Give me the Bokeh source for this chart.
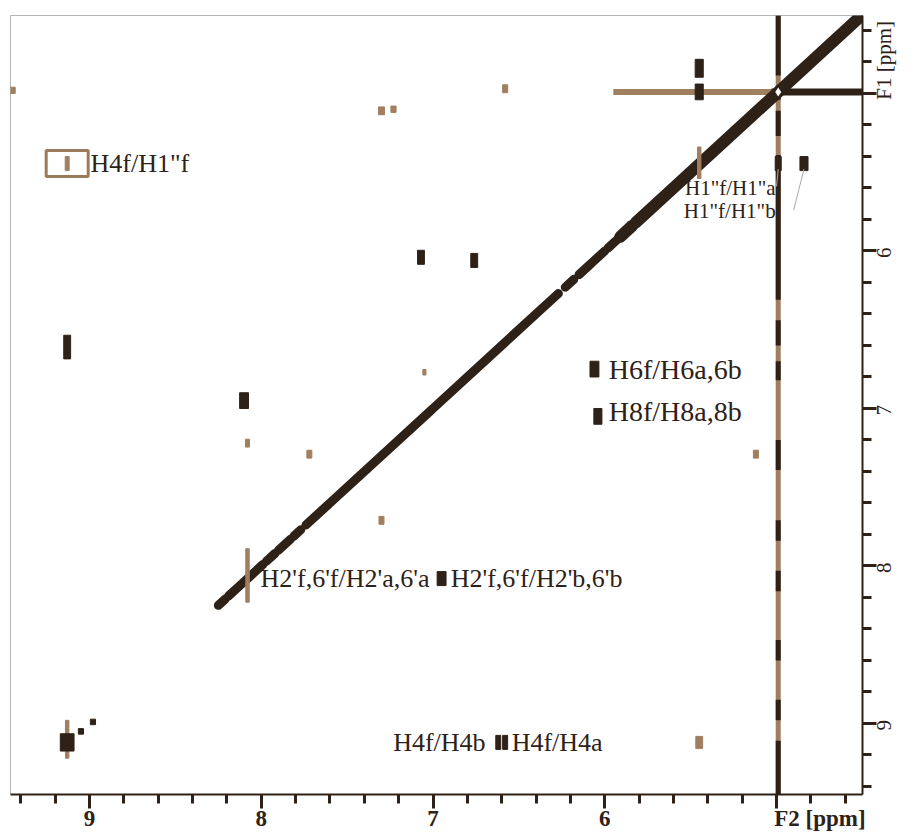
import math
from bokeh.plotting import figure
from bokeh.models import Range1d, FixedTicker, LinearAxis, Label, ColumnDataSource
from bokeh.core.properties import value
from bokeh.embed import file_html
from bokeh.resources import INLINE

DARK = "#2e2117"
TAN = "#a07e60"
SERIF = "Liberation Serif"

# ---------------- data (ppm) ----------------
# diagonal pieces: start / end chemical shift along F1 = F2
diag_start = [8.25, 8.19, 8.13, 7.97, 7.90, 7.81, 7.74, 7.60, 7.00, 6.33, 6.23, 6.15, 6.07, 5.98, 5.91, 5.82]
diag_end   = [8.21, 8.14, 7.99, 7.92, 7.83, 7.77, 7.61, 7.01, 6.34, 6.27, 6.18, 6.08, 6.00, 5.93, 5.84, 4.46]

# exchange ridge (vertical) at F2 = 4.99, dark parts
ridge_x = 4.99
ridge_dark_start = [4.505, 4.95, 5.11, 5.39, 6.44, 6.70, 7.20, 7.71, 8.03, 8.47, 8.85, 9.11]
ridge_dark_end   = [4.886, 5.04, 5.27, 6.31, 6.60, 6.82, 7.39, 7.84, 8.16, 8.60, 8.98, 9.45]
# horizontal ridge at F1 = 4.99
hridge_y = 4.99
hridge_tan = (5.95, 5.03)
hridge_dark = (5.03, 4.475)

# dark cross peaks: F2, F1, size (ppm)
dk_x  = [5.45, 5.45, 4.84, 4.99, 7.07, 6.76, 9.13, 8.10, 6.06, 6.04, 6.95, 9.13, 6.62, 6.58, 9.05, 8.98]
dk_y  = [4.84, 4.99, 5.445, 5.445, 6.04, 6.06, 6.61, 6.95, 6.75, 7.05, 8.08, 9.12, 9.12, 9.12, 9.05, 8.99]
dk_w  = [0.047, 0.047, 0.047, 0.035, 0.040, 0.040, 0.040, 0.052, 0.052, 0.047, 0.052, 0.080, 0.029, 0.029, 0.030, 0.030]
dk_h  = [0.114, 0.100, 0.089, 0.089, 0.089, 0.089, 0.150, 0.100, 0.100, 0.100, 0.089, 0.110, 0.089, 0.089, 0.035, 0.035]

# tan (opposite sign) cross peaks
tn_x = [9.13, 7.30, 7.23, 6.58, 9.45, 8.08, 7.72, 7.30, 7.05, 5.12, 5.45, 8.08, 9.13, 5.45]
tn_y = [5.445, 5.11, 5.10, 4.97, 4.98, 7.22, 7.29, 7.71, 6.77, 7.29, 9.12, 8.06, 9.10, 5.44]
tn_w = [0.023, 0.035, 0.030, 0.030, 0.035, 0.023, 0.029, 0.029, 0.018, 0.029, 0.040, 0.020, 0.020, 0.020]
tn_h = [0.089, 0.050, 0.040, 0.050, 0.040, 0.050, 0.050, 0.050, 0.035, 0.050, 0.076, 0.340, 0.240, 0.200]

# annotations
lab_text = ['H4f/H1"f', "H6f/H6a,6b", "H8f/H8a,8b", "H2'f,6'f/H2'a,6'a", "H2'f,6'f/H2'b,6'b", "H4f/H4a"]
lab_x    = [8.994, 5.977, 5.977, 8.004, 6.897, 6.542]
lab_y    = [5.445, 6.753, 7.019, 8.08, 8.08, 9.12]
lab_size = ["26px", "28px", "28px", "26px", "26px", "26px"]
rlab_text = ['H1"f/H1"a', 'H1"f/H1"b', "H4f/H4b"]
rlab_x    = [5.005, 5.005, 6.694]
rlab_y    = [5.597, 5.743, 9.12]
rlab_size = ["21px", "21px", "26px"]

major = [5, 6, 7, 8, 9]
minor = [round(4.6 + 0.2 * i, 1) for i in range(25)]
x_labels = ["F2 [ppm]", "6", "7", "8", "9"]
y_labels = ["F1 [ppm]", "6", "7", "8", "9"]
# where each tick text is anchored (F2 title starts at the 5 ppm tick; rotated F1 texts start below their tick)
x_label_at = [4.747, 6.0, 7.0, 8.0, 9.0]
y_label_at = [5.04, 6.045, 7.045, 8.045, 9.045]

# ---------------- figure ----------------
p = figure(width=911, height=836,
           x_range=Range1d(9.46, 4.4993), y_range=Range1d(9.4508, 4.5048),
           output_backend="svg", toolbar_location=None,
           x_axis_location=None, y_axis_location=None,
           min_border_left=10, min_border_top=15, min_border_right=43, min_border_bottom=42)
p.grid.visible = False
p.outline_line_color = "#b5b5b5"
p.outline_line_width = 1
p.background_fill_color = "white"

# ridges
p.segment(x0=[ridge_x], y0=[4.5048], x1=[ridge_x], y1=[9.4508], line_color=TAN, line_width=5)
p.segment(x0=[ridge_x] * len(ridge_dark_start), y0=ridge_dark_start,
          x1=[ridge_x] * len(ridge_dark_end), y1=ridge_dark_end, line_color=DARK, line_width=5)
p.segment(x0=[hridge_tan[0]], y0=[hridge_y], x1=[hridge_tan[1]], y1=[hridge_y], line_color=TAN, line_width=6)
p.segment(x0=[hridge_dark[0]], y0=[hridge_y], x1=[hridge_dark[1]], y1=[hridge_y], line_color=DARK, line_width=7)

# diagonal (thicker in the crowded upper-right part)
diag_lw = [12 if e < 5.9 else 9 for e in diag_end]
p.segment(x0=diag_start, y0=diag_start, x1=diag_end, y1=diag_end,
          line_color=DARK, line_width=diag_lw, line_cap="round")

# peaks
p.rect(x=tn_x, y=tn_y, width=tn_w, height=tn_h, fill_color=TAN, line_color=TAN, line_width=1)
p.rect(x=dk_x, y=dk_y, width=dk_w, height=dk_h, fill_color=DARK, line_color=DARK, line_width=1)

# hole at the crossing
p.scatter(x=[4.99], y=[4.99], marker="diamond", size=9, fill_color="white", line_color=None)

# box around H4f/H1"f
p.rect(x=[tn_x[0]], y=[tn_y[0]], width=0.2445, height=0.165, fill_color=None, line_color="#9c7a5c", line_width=3)

# leader lines
p.segment(x0=[5.00, 4.90], y0=[5.59, 5.74], x1=[4.99, 4.84], y1=[5.48, 5.48], line_color="#aaaaaa", line_width=1)

src = ColumnDataSource(dict(x=lab_x, y=lab_y, t=lab_text, s=lab_size))
p.text(x="x", y="y", text="t", text_font_size="s", source=src, text_font=value(SERIF),
       text_color=DARK, text_align="left", text_baseline="middle")
for t, x, y, s in zip(rlab_text, rlab_x, rlab_y, rlab_size):
    p.add_layout(Label(x=x, y=y, text=t, text_font=SERIF, text_font_size=s, text_color=DARK,
                       text_align="right", text_baseline="middle"))


def tick_axis():
    ax = LinearAxis(ticker=FixedTicker(ticks=major, minor_ticks=minor))
    ax.axis_line_color = DARK
    ax.axis_line_width = 2
    ax.major_tick_line_color = DARK
    ax.minor_tick_line_color = DARK
    ax.major_tick_line_width = 3
    ax.minor_tick_line_width = 3
    ax.major_tick_out = 14
    ax.major_tick_in = 0
    ax.minor_tick_out = 9
    ax.minor_tick_in = 0
    ax.major_label_overrides = {t: "" for t in major}
    ax.major_label_text_font_size = "1px"
    ax.major_label_standoff = 0
    return ax


def text_axis(at, texts, size, standoff):
    ax = LinearAxis(ticker=FixedTicker(ticks=at, minor_ticks=[]))
    ax.axis_line_color = None
    ax.major_tick_line_color = None
    ax.minor_tick_line_color = None
    ax.major_tick_out = 0
    ax.major_tick_in = 0
    ax.minor_tick_out = 0
    ax.minor_tick_in = 0
    ax.major_label_overrides = dict(zip(at, texts))
    ax.major_label_text_font = SERIF
    ax.major_label_text_font_size = size
    ax.major_label_text_color = DARK
    ax.major_label_standoff = standoff
    return ax


p.add_layout(tick_axis(), "below")
p.add_layout(tick_axis(), "right")

xlab = text_axis(x_label_at, x_labels, "23px", -3)
xlab.major_label_text_font_style = "bold"
p.add_layout(xlab, "below")

ylab = text_axis(y_label_at, y_labels, "21px", 8)
ylab.major_label_orientation = math.pi / 2
p.add_layout(ylab, "right")

open("out.html", "w").write(file_html(p, INLINE))
